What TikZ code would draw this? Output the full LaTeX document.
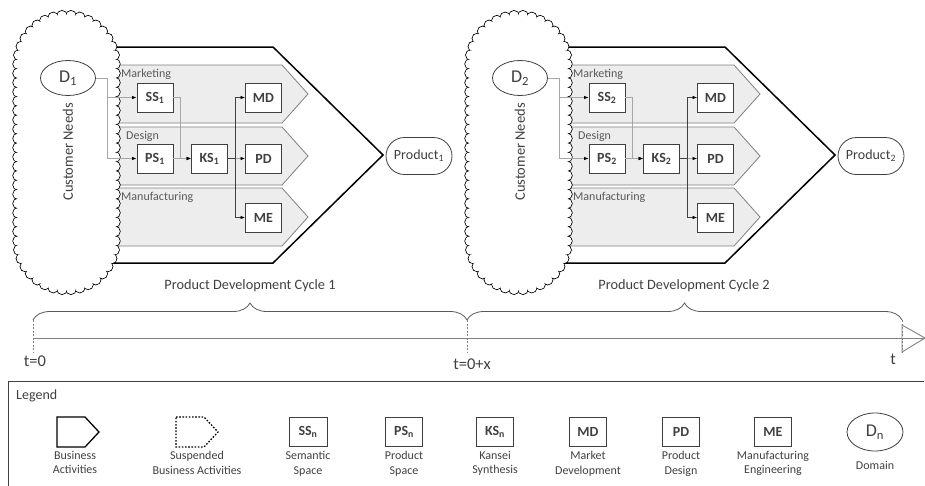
\documentclass[tikz,border=0pt]{standalone}
\usepackage{fontspec}
\setmainfont{Carlito}
\usepackage{tikz}
\usetikzlibrary{arrows.meta,positioning,shapes.geometric,shapes.misc,decorations.pathreplacing}
\definecolor{lanefill}{HTML}{EDEDED}
\definecolor{lanedraw}{HTML}{808080}
\definecolor{linegray}{HTML}{A6A6A6}
\definecolor{textgray}{HTML}{404040}
\definecolor{boxdraw}{HTML}{3F3F3F}

\begin{document}
\begin{tikzpicture}[
  x=1pt,y=-1pt,
  font=\fontsize{12}{14.5}\selectfont,
  text=textgray,
  outer/.style={fill=white,draw=black,line width=1.5pt},
  lane/.style={fill=lanefill,draw=lanedraw,line width=0.8pt},
  puff/.style={draw=black,line width=0.9pt},
  sbox/.style={draw=boxdraw,fill=white,line width=0.9pt,minimum width=36pt,minimum height=29pt,
    inner sep=0pt,font=\fontsize{14}{16}\selectfont\bfseries},
  dom/.style={ellipse,draw=boxdraw,fill=white,line width=0.8pt,minimum width=55pt,minimum height=35pt,
    inner sep=0pt,font=\fontsize{18}{20}\selectfont},
  prod/.style={rounded rectangle,draw=boxdraw,line width=0.8pt,minimum width=66pt,minimum height=37pt,
    inner sep=0pt,font=\fontsize{14}{16}\selectfont},
  lanelbl/.style={anchor=west,inner sep=0pt,text=black!65},
  conn/.style={draw=linegray,line width=0.7pt,-{Latex[length=4.5pt,width=3.5pt,color=black]}},
  conndark/.style={conn,draw=black!75},
  brace/.style={draw=black!65,line width=0.8pt,decorate,decoration={brace,amplitude=17pt}},
  tline/.style={draw=black!50,line width=0.9pt},
  tick/.style={draw=black!50,line width=0.7pt,dash pattern=on 2pt off 1.5pt},
  tlbl/.style={font=\fontsize{16.5}{18}\selectfont,inner sep=0pt},
  title/.style={font=\fontsize{14.3}{16}\selectfont},
  leglbl/.style={anchor=north,align=center,inner sep=0pt}
]
\useasboundingbox (0,0) rectangle (925,485);

% the two development cycles
\foreach \n/\dx in {1/0,2/452}{
\begin{scope}[xshift=\dx]
  \draw[outer] (95,47) -- (273,47) -- (383,155) -- (273,263) -- (95,263) -- cycle;
  \foreach \t in {65,127,188}
    \draw[lane] (95,\t) -- (282,\t) -- (308,\t+29) -- (282,\t+58) -- (95,\t+58) -- cycle;

  % customer needs cloud
  \foreach \a in {0,...,17}{
    \draw[puff] (66.5,64) ++(180+\a*10.588:48.5) circle (5.2);
    \draw[puff] (66.5,241) ++(\a*10.588:48.5) circle (5.2);}
  \foreach \y in {73.3,82.6,...,232}{
    \draw[puff] (18,\y) circle (5.2);
    \draw[puff] (115,\y) circle (5.2);}
  \foreach \a in {0,...,17}{
    \fill[white] (66.5,64) ++(180+\a*10.588:48.5) circle (4.75);
    \fill[white] (66.5,241) ++(\a*10.588:48.5) circle (4.75);}
  \foreach \y in {73.3,82.6,...,232}{
    \fill[white] (18,\y) circle (4.75);
    \fill[white] (115,\y) circle (4.75);}
  \fill[white] (66.5,64) circle (48.5);
  \fill[white] (66.5,241) circle (48.5);
  \fill[white] (18,64) rectangle (115,241);

  \node[dom] (D\n) at (68,78) {D\textsubscript{\n}};
  \node[rotate=90,font=\fontsize{14.5}{16}\selectfont] (CN\n) at (68,152) {Customer Needs};

  \node[lanelbl] (mkt\n) at (121,74) {Marketing};
  \node[lanelbl] (des\n) at (126,136) {Design};
  \node[lanelbl] (man\n) at (121,197) {Manufacturing};

  \node[sbox] (SS\n) at (155,97.5) {SS\textsubscript{\n}};
  \node[sbox] (PS\n) at (155,158.5) {PS\textsubscript{\n}};
  \node[sbox] (KS\n) at (209.5,158.5) {KS\textsubscript{\n}};
  \node[sbox] (MD\n) at (263.5,97.5) {MD};
  \node[sbox] (PD\n) at (263.5,158.5) {PD};
  \node[sbox] (ME\n) at (263.5,217.5) {ME};

  \node[prod] (P\n) at (419,156) {Product\textsubscript{\n}};

  \draw[conn] (D\n.east) -- ++(11.5,0) |- (SS\n.west);
  \draw[conn] (D\n.east) -- ++(11.5,0) |- (PS\n.west);
  \draw[conn] (SS\n.east) -- ++(7,0) |- (KS\n.west);
  \draw[conn] (PS\n) -- (KS\n);
  \draw[conn] (KS\n) -- (PD\n);
  \draw[conndark] (KS\n.east) -- ++(7,0) |- (MD\n.west);
  \draw[conndark] (KS\n.east) -- ++(7,0) |- (ME\n.west);
\end{scope}
}

% time line
\node[title] (cyc1) at (250,286) {Product Development Cycle 1};
\node[title] (cyc2) at (684,286) {Product Development Cycle 2};
\draw[brace] (33,320) -- (467,320);
\draw[brace] (467,320) -- (902,320);
\coordinate (t0) at (33,338);
\coordinate (tend) at (925,338);
\draw[tline] (t0) -- (tend);
\draw[tline] (902,325) -- (tend) -- (902,352) -- cycle;
\foreach \x in {33,467,902}
  \draw[tick] (\x,320) -- (\x,352);
\node[tlbl] (lt0) at (35,361) {t=0};
\node[tlbl] (ltx) at (472,364) {t=0+x};
\node[tlbl] (lt) at (893,359) {t};

% legend
\draw[draw=black!75,line width=0.9pt] (924,381) -| (8,486);
\node[anchor=west,inner sep=0pt,font=\fontsize{14}{16}\selectfont] (leg) at (16,396) {Legend};
\draw[draw=black,line width=1.3pt] (57,417) -- (85,417) -- (99,432) -- (85,447) -- (57,447) -- cycle;
\draw[draw=black,line width=1.3pt,dash pattern=on 1.6pt off 1.6pt] (176,417) -- (204,417) -- (218,432) -- (204,447) -- (176,447) -- cycle;
\node[leglbl] (lba) at (75,451) {Business\\Activities};
\node[leglbl] (lsba) at (197,451) {Suspended\\Business Activities};
\node[sbox,minimum width=38pt] (lSS) at (308,432) {SS\textsubscript{n}};
\node[sbox,minimum width=37pt] (lPS) at (404,432) {PS\textsubscript{n}};
\node[sbox,minimum width=37pt] (lKS) at (495,432) {KS\textsubscript{n}};
\node[sbox,minimum width=37pt] (lMD) at (588,432) {MD};
\node[sbox,minimum width=37pt] (lPD) at (681,432) {PD};
\node[sbox,minimum width=37pt] (lME) at (773,432) {ME};
\node[dom,minimum width=56pt,minimum height=38pt] (lD) at (875,432) {D\textsubscript{n}};
\node[leglbl] (tSS) at (308,451) {Semantic\\Space};
\node[leglbl] (tPS) at (404,451) {Product\\Space};
\node[leglbl] (tKS) at (495,451) {Kansei\\Synthesis};
\node[leglbl] (tMD) at (588,451) {Market\\Development};
\node[leglbl] (tPD) at (681,451) {Product\\Design};
\node[leglbl] (tME) at (773,451) {Manufacturing\\Engineering};
\node (tD) at (875,465) {Domain};
\end{tikzpicture}
\end{document}
